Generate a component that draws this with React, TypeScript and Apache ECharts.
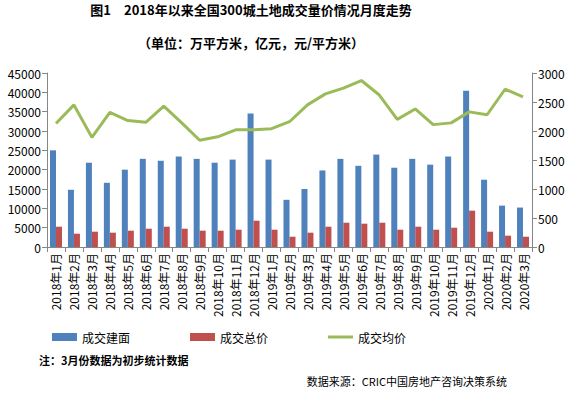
import React, { useEffect, useRef } from "react";
import * as echarts from "echarts";

const categories = [
  "2018年1月", "2018年2月", "2018年3月", "2018年4月", "2018年5月", "2018年6月",
  "2018年7月", "2018年8月", "2018年9月", "2018年10月", "2018年11月", "2018年12月",
  "2019年1月", "2019年2月", "2019年3月", "2019年4月", "2019年5月", "2019年6月",
  "2019年7月", "2019年8月", "2019年9月", "2019年10月", "2019年11月", "2019年12月",
  "2020年1月", "2020年2月", "2020年3月",
];

const area = [
  25000, 14800, 21800, 16600, 20000, 22800, 22300, 23400, 22800, 21800, 22600, 34500,
  22600, 12200, 15000, 19800, 22800, 21000, 23900, 20500, 22800, 21300, 23400, 40400,
  17400, 10700, 10200,
];

const total = [
  5250, 3440, 3960, 3700, 4220, 4730, 5250, 4730, 4220, 4220, 4470, 6800,
  4470, 2660, 3700, 5250, 6280, 6030, 6280, 4470, 5250, 4470, 4990, 9390,
  3960, 2920, 2660,
];

const price = [
  2130, 2450, 1890, 2320, 2180, 2150, 2430, 2140, 1840, 1900, 2020, 2020,
  2040, 2160, 2450, 2640, 2740, 2870, 2620, 2200, 2380, 2110, 2140, 2330,
  2280, 2720, 2590,
];

const titleText = "图1　2018年以来全国300城土地成交量价情况月度走势";
const subtitleText = "（单位：万平方米，亿元，元/平方米）";
const noteText = "注：3月份数据为初步统计数据";
const sourceText = "数据来源：CRIC中国房地产咨询决策系统";

const FONT = "'Noto Sans CJK SC', 'DejaVu Sans', sans-serif";

export default function App() {
  const ref = useRef<HTMLDivElement>(null);
  useEffect(() => {
    document.body.style.margin = "0";
    if (!ref.current) return;
    const chart = echarts.init(ref.current, null, { renderer: "svg" });
    const axisLine = { show: true, lineStyle: { color: "#868686", width: 1 } };
    const plain = (v: number) => String(v);
    chart.setOption({
      animation: false,
      backgroundColor: "#ffffff",
      textStyle: { fontFamily: FONT },
      graphic: [
        {
          type: "text",
          x: 251,
          y: 3,
          style: {
            text: titleText,
            textAlign: "center",
            textVerticalAlign: "top",
            fontSize: 13,
            fontWeight: "bold",
            fontFamily: FONT,
            fill: "#000",
          },
        },
        {
          type: "text",
          x: 251,
          y: 36,
          style: {
            text: subtitleText,
            textAlign: "center",
            textVerticalAlign: "top",
            fontSize: 13,
            fontWeight: "bold",
            fontFamily: FONT,
            fill: "#000",
          },
        },
        {
          type: "text",
          x: 39,
          y: 354,
          style: {
            text: noteText,
            textAlign: "left",
            textVerticalAlign: "top",
            fontSize: 11,
            fontWeight: "bold",
            fontFamily: FONT,
            fill: "#000",
          },
        },
        {
          type: "text",
          x: 507,
          y: 375,
          style: {
            text: sourceText,
            textAlign: "right",
            textVerticalAlign: "top",
            fontSize: 11,
            fontFamily: FONT,
            fill: "#000",
          },
        },
      ],
      legend: {
        left: 52,
        top: 331,
        padding: 0,
        itemWidth: 25,
        itemHeight: 8,
        itemGap: 60,
        textStyle: { fontSize: 12, color: "#000", fontFamily: FONT },
        data: [
          { name: "成交建面", icon: "rect" },
          { name: "成交总价", icon: "rect" },
          { name: "成交均价", icon: "path://M0,0 L25,0 L25,3 L0,3 Z" },
        ],
      },
      grid: { left: 47, right: 37, top: 73, bottom: 152, containLabel: false },
      xAxis: {
        type: "category",
        data: categories,
        boundaryGap: true,
        axisLine,
        axisTick: { show: true, length: 5, lineStyle: { color: "#868686" } },
        axisLabel: { interval: 0, rotate: 90, fontSize: 12, color: "#000", margin: 6, fontFamily: FONT },
        splitLine: { show: false },
      },
      yAxis: [
        {
          type: "value",
          min: 0,
          max: 45000,
          interval: 5000,
          axisLine,
          axisTick: { show: true, length: 5, lineStyle: { color: "#868686" } },
          axisLabel: { fontSize: 12, color: "#000", margin: 6, fontFamily: FONT, formatter: plain },
          splitLine: { show: false },
        },
        {
          type: "value",
          min: 0,
          max: 3000,
          interval: 500,
          position: "right",
          axisLine,
          axisTick: { show: true, length: 5, lineStyle: { color: "#868686" } },
          axisLabel: { fontSize: 12, color: "#000", margin: 6, fontFamily: FONT, formatter: plain },
          splitLine: { show: false },
        },
      ],
      series: [
        {
          name: "成交建面",
          type: "bar",
          data: area,
          yAxisIndex: 0,
          barWidth: 6,
          barGap: "0%",
          itemStyle: { color: "#4F81BD" },
        },
        {
          name: "成交总价",
          type: "bar",
          data: total,
          yAxisIndex: 0,
          barWidth: 6,
          barGap: "0%",
          itemStyle: { color: "#C0504D" },
        },
        {
          name: "成交均价",
          type: "line",
          data: price,
          yAxisIndex: 1,
          symbol: "none",
          lineStyle: { color: "#9BBB59", width: 3 },
          itemStyle: { color: "#9BBB59" },
        },
      ],
    });
    return () => chart.dispose();
  }, []);
  return <div ref={ref} style={{ width: 569, height: 399 }} />;
}
